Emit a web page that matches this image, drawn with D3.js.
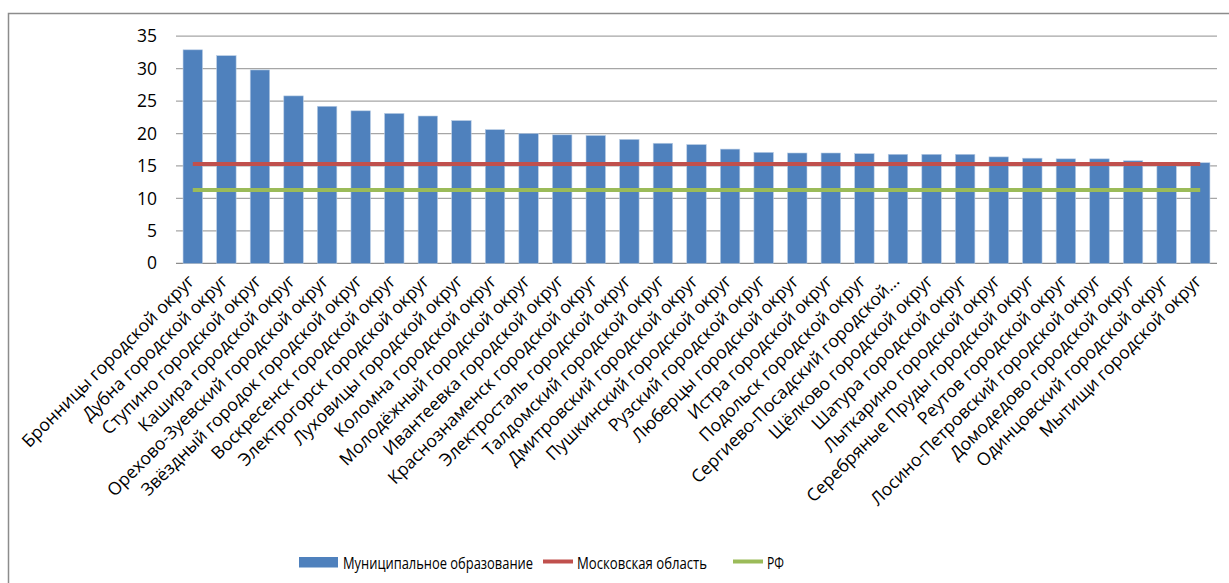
<!DOCTYPE html>
<html><head><meta charset="utf-8">
<script src="https://cdn.jsdelivr.net/npm/d3@7"></script>
<style>
html,body{margin:0;padding:0;background:#fff;}
text{font-family:"Open Sans","Noto Sans",sans-serif;fill:#000;}
</style></head>
<body>
<svg id="chart" width="1229" height="583"></svg>
<script>
const categories = [
  "Бронницы городской округ","Дубна городской округ","Ступино городской округ","Кашира городской округ",
  "Орехово-Зуевский городской округ","Звёздный городок городской округ","Воскресенск городской округ",
  "Электрогорск городской округ","Луховицы городской округ","Коломна городской округ",
  "Молодёжный городской округ","Ивантеевка городской округ","Краснознаменск городской округ",
  "Электросталь городской округ","Талдомский городской округ","Дмитровский городской округ",
  "Пушкинский городской округ","Рузский городской округ","Люберцы городской округ",
  "Истра городской округ","Подольск городской округ","Сергиево-Посадский городской...",
  "Щёлково городской округ","Шатура городской округ","Лыткарино городской округ",
  "Серебряные Пруды городской округ","Реутов городской округ","Лосино-Петровский городской округ",
  "Домодедово городской округ","Одинцовский городской округ","Мытищи городской округ"
];
const municipalValues = [32.9,32.0,29.8,25.8,24.2,23.5,23.1,22.7,22.0,20.6,20.0,19.8,19.7,19.1,18.5,18.3,17.6,17.1,17.0,17.0,16.9,16.8,16.8,16.8,16.4,16.2,16.1,16.1,15.8,15.4,15.5];
const moscowRegionValue = 15.3;
const russiaValue = 11.3;
const yTicks = [0,5,10,15,20,25,30,35];
const seriesNames = ["Муниципальное образование","Московская область","РФ"];
const colors = {bar:"#4f81bd", red:"#c0504d", green:"#9bbb59", grid:"#a6a6a6"};

const svg = d3.select("#chart");
const m = {left:176, right:1217, top:36, bottom:263.3};
const FONT = '"Open Sans","Noto Sans",sans-serif';

// outer frame
svg.append("rect").attr("x",8.5).attr("y",13.5).attr("width",1240).attr("height",600)
  .attr("fill","none").attr("stroke","#8c8c8c").attr("stroke-width",1.5);

const x = d3.scaleBand().domain(categories).range([m.left,m.right]).paddingInner(0.42).paddingOuter(0.21);
const xc = d3.scalePoint().domain(categories).range([m.left,m.right]).padding(0.5);
const y = d3.scaleLinear().domain([0,35]).range([m.bottom,m.top+0.2]);

// gridlines
svg.append("g").selectAll("line").data(yTicks).join("line")
  .attr("x1",m.left).attr("x2",m.right)
  .attr("y1",d=>y(d)).attr("y2",d=>y(d))
  .attr("stroke",d=>d===0?"#8c8c8c":colors.grid).attr("stroke-width",1.2);

// y axis labels
const yAxis = d3.axisLeft(y).tickValues(yTicks).tickSize(0).tickPadding(0);
const gy = svg.append("g").attr("transform",`translate(157,0)`).call(yAxis);
gy.select(".domain").remove();
gy.selectAll("text").attr("font-size",17.5).attr("fill","#000").style("font-family",FONT);

// bars
svg.append("g").selectAll("rect").data(municipalValues).join("rect")
  .attr("x",(d,i)=>x(categories[i]))
  .attr("width",x.bandwidth())
  .attr("y",d=>y(d))
  .attr("height",d=>y(0)-y(d))
  .attr("fill",colors.bar)
  .attr("stroke","#b9cde5").attr("stroke-width",0.6);

// lines
const line = d3.line().x(d=>xc(d.c)).y(d=>y(d.v));
svg.append("path").datum(categories.map(c=>({c,v:moscowRegionValue})))
  .attr("d",line).attr("fill","none").attr("stroke",colors.red).attr("stroke-width",4);
svg.append("path").datum(categories.map(c=>({c,v:russiaValue})))
  .attr("d",line).attr("fill","none").attr("stroke",colors.green).attr("stroke-width",4);

// x labels
const xAxis = d3.axisBottom(xc).tickSize(0).tickPadding(0);
const gx = svg.append("g").attr("transform",`translate(0,${m.bottom})`).call(xAxis);
gx.select(".domain").remove();
gx.selectAll("text")
  .attr("font-size",17.6).attr("fill","#000")
  .style("font-family",FONT)
  .attr("text-anchor","end")
  .attr("dy","0")
  .attr("transform","translate(2,19) rotate(-45)");

// legend
const lg = svg.append("g");
lg.append("rect").attr("x",299).attr("y",557).attr("width",39).attr("height",10.5).attr("fill",colors.bar);
lg.append("text").attr("x",343).attr("y",568.5).text(seriesNames[0]).attr("font-size",17)
  .attr("textLength",190).attr("lengthAdjust","spacingAndGlyphs");
lg.append("line").attr("x1",543).attr("x2",573).attr("y1",561.5).attr("y2",561.5).attr("stroke",colors.red).attr("stroke-width",4);
lg.append("text").attr("x",577).attr("y",568.5).text(seriesNames[1]).attr("font-size",17)
  .attr("textLength",130).attr("lengthAdjust","spacingAndGlyphs");
lg.append("line").attr("x1",733).attr("x2",763).attr("y1",561.5).attr("y2",561.5).attr("stroke",colors.green).attr("stroke-width",4);
lg.append("text").attr("x",767).attr("y",568.5).text(seriesNames[2]).attr("font-size",17)
  .attr("textLength",17).attr("lengthAdjust","spacingAndGlyphs");
</script>
</body></html>
